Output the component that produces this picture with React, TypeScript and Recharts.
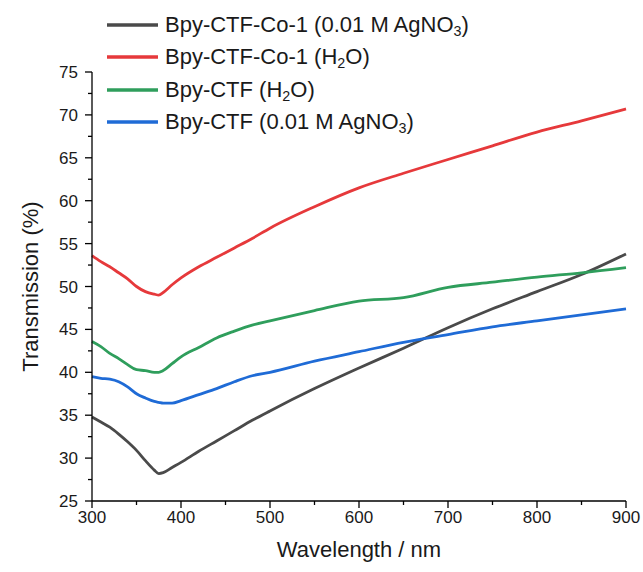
import { LineChart, Line, XAxis, YAxis, Legend } from "recharts";

// wavelengths (nm)
const wavelengths = [
  300, 310, 320, 330, 340, 350, 360, 370, 375, 380, 390, 400, 420, 440, 460,
  480, 500, 550, 600, 650, 700, 750, 800, 850, 900,
];

// transmission (%)
const coAgNO3 = [
  34.8, 34.2, 33.6, 32.8, 31.9, 30.9, 29.7, 28.6, 28.2, 28.3, 28.9, 29.5, 30.8,
  32.0, 33.2, 34.4, 35.5, 38.1, 40.5, 42.8, 45.2, 47.4, 49.4, 51.4, 53.8,
];
const coH2O = [
  53.6, 52.9, 52.3, 51.6, 50.9, 50.0, 49.4, 49.1, 49.0, 49.3, 50.2, 51.0, 52.3,
  53.4, 54.5, 55.6, 56.8, 59.3, 61.5, 63.2, 64.8, 66.4, 68.0, 69.3, 70.7,
];
const ctfH2O = [
  43.6, 43.0, 42.2, 41.6, 40.9, 40.3, 40.2, 40.0, 40.0, 40.2, 41.0, 41.8, 42.9,
  44.0, 44.8, 45.5, 46.0, 47.2, 48.3, 48.7, 49.9, 50.5, 51.1, 51.6, 52.2,
];
const ctfAgNO3 = [
  39.5, 39.3, 39.2, 38.9, 38.3, 37.5, 37.0, 36.6, 36.5, 36.4, 36.4, 36.7, 37.4,
  38.1, 38.9, 39.6, 40.0, 41.3, 42.4, 43.5, 44.4, 45.3, 46.0, 46.7, 47.4,
];

// major ticks get a label, minor ticks sit half-way between
const xTicks = [300, 350, 400, 450, 500, 550, 600, 650, 700, 750, 800, 850, 900];
const xLabelled = [300, 400, 500, 600, 700, 800, 900];
const yTicks = [
  25, 27.5, 30, 32.5, 35, 37.5, 40, 42.5, 45, 47.5, 50, 52.5, 55, 57.5, 60,
  62.5, 65, 67.5, 70, 72.5, 75,
];
const yLabelled = [25, 30, 35, 40, 45, 50, 55, 60, 65, 70, 75];

const data = wavelengths.map((w, i) => ({
  w,
  coAg: coAgNO3[i],
  coH2O: coH2O[i],
  ctfH2O: ctfH2O[i],
  ctfAg: ctfAgNO3[i],
}));

const FONT = "'Liberation Sans', Arial, sans-serif";
const INK = "#1a1a1a";
const sub = (t: string) => (
  <sub style={{ fontSize: "0.65em", lineHeight: 0, verticalAlign: "-0.3em" }}>{t}</sub>
);

const series = [
  { key: "coAg", color: "#4a4a4a", label: <>Bpy-CTF-Co-1 (0.01 M AgNO{sub("3")})</> },
  { key: "coH2O", color: "#e6393b", label: <>Bpy-CTF-Co-1 (H{sub("2")}O)</> },
  { key: "ctfH2O", color: "#2f9e5c", label: <>Bpy-CTF (H{sub("2")}O)</> },
  { key: "ctfAg", color: "#1f6bd6", label: <>Bpy-CTF (0.01 M AgNO{sub("3")})</> },
];

function LegendBox() {
  return (
    <div style={{ fontFamily: FONT, fontSize: 22, color: INK }}>
      {series.map((s) => (
        <div key={s.key} style={{ display: "flex", alignItems: "center", height: 32.3 }}>
          <svg width={51} height={6} style={{ marginRight: 7 }}>
            <line x1={0} y1={3} x2={51} y2={3} stroke={s.color} strokeWidth={3.5} />
          </svg>
          <span style={{ whiteSpace: "nowrap" }}>{s.label}</span>
        </div>
      ))}
    </div>
  );
}

function XTick(props: any) {
  const { x, y, payload } = props;
  const major = xLabelled.includes(payload.value);
  return (
    <g>
      <line x1={x} y1={y} x2={x} y2={y + (major ? 7 : 4)} stroke="#000" strokeWidth={1.3} />
      {major && (
        <text x={x} y={y + 22} textAnchor="middle" fontSize={17} fontFamily={FONT} fill={INK}>
          {payload.value}
        </text>
      )}
    </g>
  );
}

function YTick(props: any) {
  const { x, y, payload } = props;
  const major = yLabelled.includes(payload.value);
  return (
    <g>
      <line x1={x} y1={y} x2={x - (major ? 7 : 4)} y2={y} stroke="#000" strokeWidth={1.3} />
      {major && (
        <text x={x - 14} y={y + 6} textAnchor="end" fontSize={17} fontFamily={FONT} fill={INK}>
          {payload.value}
        </text>
      )}
    </g>
  );
}

export default function App() {
  return (
    <div style={{ position: "absolute", left: 0, top: 0, background: "#fff" }}>
      <LineChart
        width={643}
        height={572}
        data={data}
        margin={{ top: 72, right: 17, bottom: 0, left: 0 }}
      >
        <XAxis
          dataKey="w"
          type="number"
          domain={[300, 900]}
          ticks={xTicks}
          interval={0}
          height={71}
          tickSize={0}
          tickMargin={0}
          tickLine={false}
          stroke="#000"
          strokeWidth={1.3}
          tick={<XTick />}
          label={{
            value: "Wavelength / nm",
            position: "center",
            dy: 13,
            style: { fontSize: 22, fill: INK, fontFamily: FONT },
          }}
        />
        <YAxis
          type="number"
          domain={[25, 75]}
          ticks={yTicks}
          interval={0}
          width={92}
          tickSize={0}
          tickMargin={0}
          tickLine={false}
          stroke="#000"
          strokeWidth={1.3}
          tick={<YTick />}
          label={{
            value: "Transmission (%)",
            angle: -90,
            position: "center",
            dx: -16,
            style: { fontSize: 22, fill: INK, fontFamily: FONT, textAnchor: "middle" },
          }}
        />
        <Legend
          layout="vertical"
          align="center"
          verticalAlign="middle"
          content={() => <LegendBox />}
          wrapperStyle={{ left: 107, top: 9, width: "auto" }}
        />
        {series.map((s) => (
          <Line
            key={s.key}
            dataKey={s.key}
            stroke={s.color}
            strokeWidth={2.8}
            dot={false}
            type="monotone"
            isAnimationActive={false}
          />
        ))}
      </LineChart>
    </div>
  );
}
